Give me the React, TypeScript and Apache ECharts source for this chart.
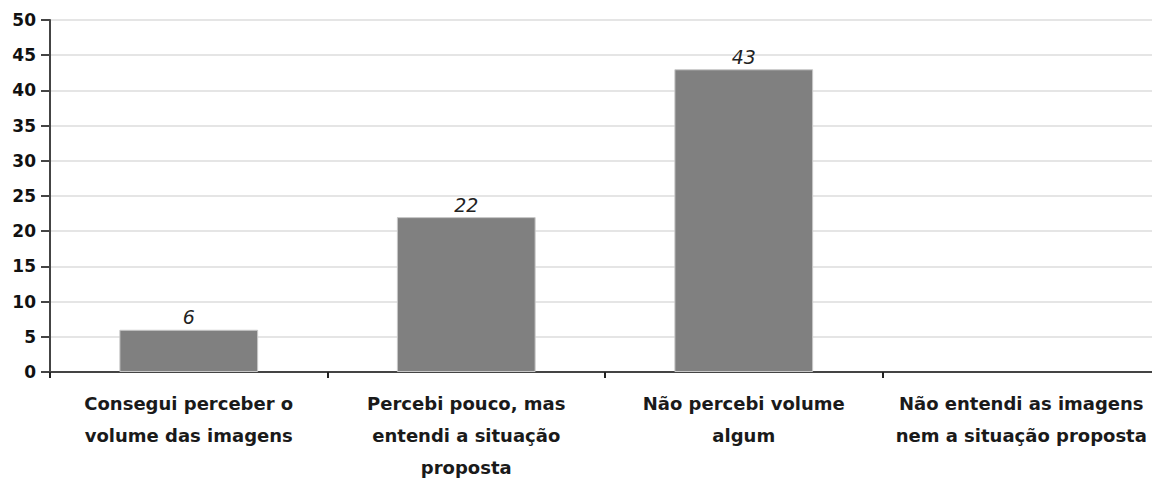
import React, { useEffect, useRef } from "react";
import * as echarts from "echarts";

const categories = [
  "Consegui perceber o\nvolume das imagens",
  "Percebi pouco, mas\nentendi a situação\nproposta",
  "Não percebi volume\nalgum",
  "Não entendi as imagens\nnem a situação proposta",
];
const values = [6, 22, 43, 0];
const yTicks = { min: 0, max: 50, interval: 5 };

export default function App() {
  const ref = useRef<HTMLDivElement>(null);
  useEffect(() => {
    if (!ref.current) return;
    const chart = echarts.init(ref.current, undefined, { renderer: "svg" });
    chart.setOption({
      animation: false,
      backgroundColor: "#ffffff",
      grid: {
        left: 50,
        top: 20,
        width: 1110,
        height: 352,
        containLabel: false,
        outerBoundsMode: "none",
      },
      xAxis: {
        type: "category",
        data: categories,
        axisLine: { lineStyle: { color: "#444", width: 2 } },
        axisTick: { show: true, length: 6, lineStyle: { color: "#222", width: 2 } },
        axisLabel: {
          interval: 0,
          margin: 15,
          fontFamily: "DejaVu Sans",
          fontSize: 18,
          fontWeight: "bold",
          color: "#1a1a1a",
          lineHeight: 32,
        },
        splitLine: { show: false },
      },
      yAxis: {
        type: "value",
        min: yTicks.min,
        max: yTicks.max,
        interval: yTicks.interval,
        axisLine: { show: true, lineStyle: { color: "#444", width: 2 } },
        axisTick: { show: true, length: 9, lineStyle: { color: "#444", width: 2 } },
        axisLabel: {
          margin: 14,
          fontFamily: "DejaVu Sans",
          fontSize: 17,
          fontWeight: "bold",
          color: "#111",
        },
        splitLine: { show: true, lineStyle: { color: "#dcdcdc", width: 1.5 } },
      },
      series: [
        {
          type: "bar",
          data: values.map((v) => ({
            value: v,
            itemStyle: v === 0 ? { borderWidth: 0, opacity: 0 } : undefined,
          })),
          barWidth: "50%",
          itemStyle: { color: "#808080", borderColor: "#c8c8c8", borderWidth: 1 },
          label: {
            show: true,
            position: "top",
            distance: 3,
            fontFamily: "DejaVu Sans",
            fontStyle: "italic",
            fontSize: 19,
            color: "#222",
            formatter: (p: any) => (p.value ? String(p.value) : ""),
          },
        },
      ],
    });
    return () => chart.dispose();
  }, []);
  return (
    <div
      ref={ref}
      style={{ position: "fixed", left: 0, top: 0, width: 1152, height: 480, background: "#fff" }}
    />
  );
}
